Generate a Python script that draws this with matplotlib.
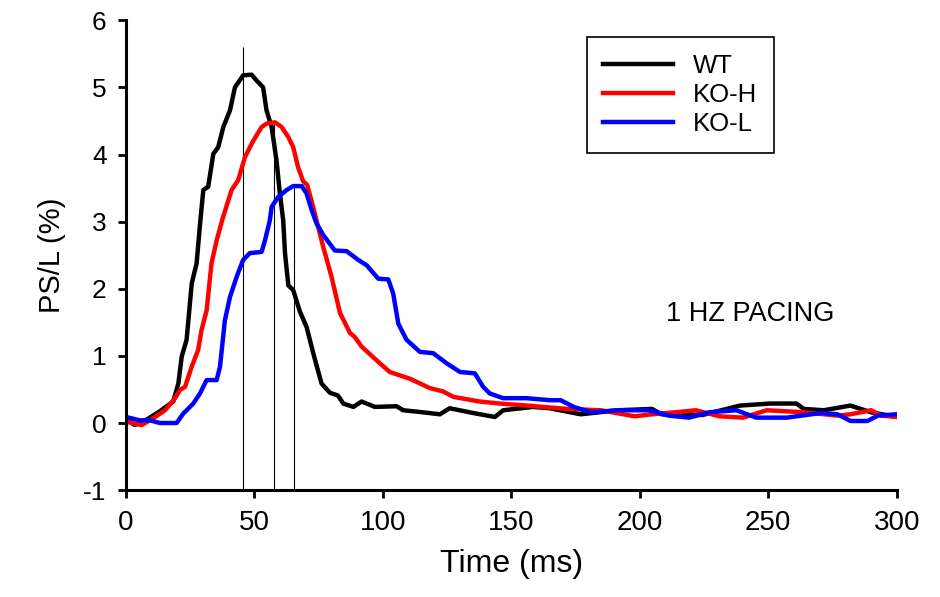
import numpy as np
import matplotlib
matplotlib.use("Agg")
import matplotlib.pyplot as plt

# traces (time in ms, PS/L in %)
wt_t = [0, 3.5, 8, 13, 18.4, 20.4, 21.7, 23.6, 25.6, 27.5, 28.8, 30.1, 32, 34, 35.9, 37.9,
        40.5, 42.4, 45.6, 48.9, 50.9, 53.4, 54.7, 56.7, 58.6, 59.9, 61.2, 61.9, 63.2, 65.1,
        67.7, 70.3, 72.9, 76.1, 79.4, 82.5, 84.6, 88.5, 91.7, 96.9, 105.3, 107.9, 113.1,
        122.2, 126, 135, 143.6, 146.8, 158.4, 165, 177, 191.5, 204.7, 208.5, 224.4, 239,
        250.6, 261, 263.8, 271.6, 282, 290, 300]
wt_v = [0.05, -0.03, 0.05, 0.17, 0.32, 0.59, 0.99, 1.24, 2.08, 2.38, 2.95, 3.47, 3.52, 4.01,
        4.11, 4.41, 4.66, 5.0, 5.18, 5.19, 5.1, 5.0, 4.66, 4.41, 3.91, 3.42, 3.02, 2.53, 2.05,
        1.98, 1.66, 1.43, 1.04, 0.59, 0.45, 0.41, 0.29, 0.24, 0.32, 0.24, 0.25, 0.19, 0.17,
        0.13, 0.22, 0.15, 0.09, 0.19, 0.24, 0.22, 0.13, 0.19, 0.21, 0.13, 0.12, 0.26, 0.29,
        0.29, 0.21, 0.19, 0.26, 0.16, 0.09]

koh_t = [0, 6.1, 10.6, 15.2, 19.1, 21, 23, 25.6, 28.1, 29.4, 31.4, 33.3, 35.3, 37.5, 41.1,
         43.7, 46.3, 48.9, 50.9, 52.8, 54.7, 58, 60.6, 63.2, 65.1, 67, 69, 70.5, 72.3, 73.5,
         76.8, 80, 83.3, 87.2, 89.1, 91.7, 98.8, 102.7, 110.5, 118.3, 123.5, 127.4, 137.7,
         145.5, 156, 171.8, 184.8, 198, 204.7, 213.9, 221.8, 231, 240.2, 249.4, 263.8, 277,
         282, 290, 294, 300]
koh_v = [0.02, -0.03, 0.07, 0.19, 0.37, 0.49, 0.54, 0.84, 1.09, 1.38, 1.68, 2.38, 2.72, 3.03,
         3.47, 3.62, 3.96, 4.16, 4.29, 4.41, 4.46, 4.48, 4.41, 4.26, 4.11, 3.81, 3.6, 3.55,
         3.3, 3.12, 2.62, 2.18, 1.64, 1.34, 1.28, 1.14, 0.89, 0.76, 0.66, 0.52, 0.47, 0.39,
         0.32, 0.29, 0.26, 0.21, 0.19, 0.1, 0.13, 0.16, 0.19, 0.1, 0.08, 0.19, 0.16, 0.11,
         0.13, 0.19, 0.11, 0.09]

kol_t = [0, 5.4, 9.3, 13.2, 19.7, 22.3, 26.2, 28.8, 31.4, 35.3, 36.6, 38.5, 40.5, 43.1, 45.6,
         48.2, 52.8, 54.1, 56, 56.7, 59.3, 62.5, 65.1, 68.4, 70.3, 72.3, 74.2, 76.8, 81.3,
         85.9, 90.4, 93.7, 98.2, 102.1, 104, 106, 109.2, 114.4, 119.6, 124.8, 130, 135.8, 139,
         141.6, 146.8, 155.9, 165, 169.2, 174.3, 181, 191.5, 203.3, 211.3, 219.2, 227, 237.5,
         245.4, 257.2, 270.5, 276.9, 282, 288.6, 292.6, 300]
kol_v = [0.09, 0.04, 0.04, 0.0, 0.0, 0.14, 0.29, 0.44, 0.64, 0.64, 0.84, 1.53, 1.88, 2.18,
         2.43, 2.53, 2.55, 2.72, 3.02, 3.22, 3.37, 3.47, 3.53, 3.53, 3.42, 3.17, 2.97, 2.80,
         2.57, 2.56, 2.43, 2.35, 2.15, 2.14, 1.93, 1.48, 1.24, 1.06, 1.04, 0.89, 0.76, 0.74,
         0.54, 0.44, 0.37, 0.37, 0.34, 0.34, 0.24, 0.16, 0.19, 0.19, 0.11, 0.08, 0.16, 0.19,
         0.08, 0.08, 0.15, 0.13, 0.03, 0.03, 0.11, 0.13]

# time-to-peak markers
peak_t = [45.6, 57.7, 65.5]
peak_top = [5.6, 4.48, 3.55]

plt.rcParams['font.family'] = ['Liberation Sans', 'DejaVu Sans']
plt.rcParams['axes.unicode_minus'] = False

fig = plt.figure(figsize=(9.4, 5.97), dpi=100)
ax = fig.add_axes([0.134, 0.179, 0.82, 0.787])

ax.vlines(peak_t, -1, peak_top, color='black', lw=0.8)
ax.plot(wt_t, wt_v, color='black', lw=3.2, label='WT')
ax.plot(koh_t, koh_v, color='#ff0000', lw=3.2, label='KO-H')
ax.plot(kol_t, kol_v, color='#0000ff', lw=3.2, label='KO-L')

ax.set_xlim(0, 300)
ax.set_ylim(-1, 6)
ax.set_xticks(np.arange(0, 301, 50))
ax.set_yticks(np.arange(-1, 7, 1))
for s in ['top', 'right']:
    ax.spines[s].set_visible(False)
for s in ['left', 'bottom']:
    ax.spines[s].set_linewidth(2.2)
ax.tick_params(direction='out', length=6, width=2, pad=8)
ax.tick_params(axis='x', labelsize=20)
ax.tick_params(axis='y', labelsize=19)

ax.set_xlabel('Time (ms)', fontsize=23, labelpad=10)
ax.set_ylabel('PS/L (%)', fontsize=21, labelpad=12)

ax.text(210, 1.62, '1 HZ PACING', fontsize=19.5, va='center')

leg = ax.legend(loc='upper left', bbox_to_anchor=(0.624, 0.938), bbox_transform=fig.transFigure,
                fontsize=18.5, frameon=True, fancybox=False, edgecolor='black', framealpha=1,
                handlelength=2.7, handletextpad=0.8, labelspacing=0.2, borderpad=0.65,
                borderaxespad=0)
leg.get_frame().set_linewidth(1.2)

plt.savefig('out.png', dpi=100)
